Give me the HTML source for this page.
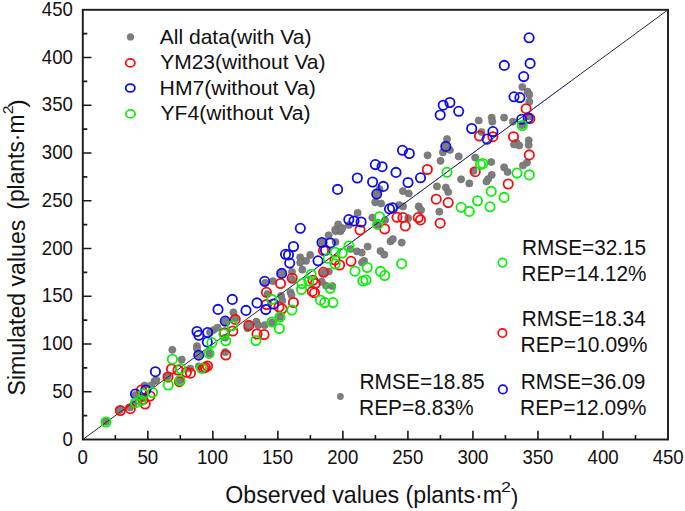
<!DOCTYPE html>
<html><head><meta charset="utf-8"><style>
html,body{margin:0;padding:0;background:#fff;width:685px;height:511px;overflow:hidden}
</style></head><body>
<svg width="685" height="511" viewBox="0 0 685 511" style="position:absolute;left:0;top:0" font-family='"Liberation Sans", sans-serif'>
<rect width="685" height="511" fill="#fff"/>
<g fill="#7e7e7e" stroke="#6c6c6c" stroke-width="0.6">
<circle cx="106" cy="421.7" r="3.6"/>
<circle cx="120" cy="410" r="3.6"/>
<circle cx="130" cy="407.5" r="3.6"/>
<circle cx="135.5" cy="395" r="3.6"/>
<circle cx="144.5" cy="385.5" r="3.6"/>
<circle cx="154.6" cy="381" r="3.6"/>
<circle cx="156.4" cy="380" r="3.6"/>
<circle cx="167.6" cy="376.5" r="3.6"/>
<circle cx="172.3" cy="349.8" r="3.6"/>
<circle cx="181.7" cy="359.6" r="3.6"/>
<circle cx="179.5" cy="380.5" r="3.6"/>
<circle cx="190.3" cy="368.5" r="3.6"/>
<circle cx="198.7" cy="355.2" r="3.6"/>
<circle cx="197" cy="346.2" r="3.6"/>
<circle cx="198.8" cy="366.4" r="3.6"/>
<circle cx="213.5" cy="330" r="3.6"/>
<circle cx="217.6" cy="327.6" r="3.6"/>
<circle cx="210" cy="332.3" r="3.6"/>
<circle cx="233.4" cy="312.3" r="3.6"/>
<circle cx="225.2" cy="321.1" r="3.6"/>
<circle cx="225.2" cy="352.2" r="3.6"/>
<circle cx="209.4" cy="353.4" r="3.6"/>
<circle cx="225.2" cy="337.6" r="3.6"/>
<circle cx="247.5" cy="328.2" r="3.6"/>
<circle cx="249" cy="325.2" r="3.6"/>
<circle cx="256.4" cy="321.7" r="3.6"/>
<circle cx="258.2" cy="325.2" r="3.6"/>
<circle cx="264.7" cy="325.2" r="3.6"/>
<circle cx="272" cy="322.3" r="3.6"/>
<circle cx="280" cy="317" r="3.6"/>
<circle cx="281.7" cy="273.5" r="3.6"/>
<circle cx="292" cy="279" r="3.6"/>
<circle cx="265.2" cy="282.9" r="3.6"/>
<circle cx="272.9" cy="281.2" r="3.6"/>
<circle cx="281.1" cy="295.8" r="3.6"/>
<circle cx="282.3" cy="300.5" r="3.6"/>
<circle cx="290.5" cy="292.3" r="3.6"/>
<circle cx="291.5" cy="295" r="3.6"/>
<circle cx="302.3" cy="269.7" r="3.6"/>
<circle cx="300.2" cy="257.3" r="3.6"/>
<circle cx="310.2" cy="254.9" r="3.6"/>
<circle cx="306.1" cy="260.8" r="3.6"/>
<circle cx="300.2" cy="262.6" r="3.6"/>
<circle cx="321.7" cy="281.7" r="3.6"/>
<circle cx="332.3" cy="286.1" r="3.6"/>
<circle cx="328.8" cy="271.5" r="3.6"/>
<circle cx="323.5" cy="272.6" r="3.6"/>
<circle cx="328.7" cy="235.3" r="3.6"/>
<circle cx="335.8" cy="231.2" r="3.6"/>
<circle cx="340.5" cy="231.2" r="3.6"/>
<circle cx="338.2" cy="224.4" r="3.6"/>
<circle cx="335.2" cy="229.7" r="3.6"/>
<circle cx="341.1" cy="229.7" r="3.6"/>
<circle cx="335.5" cy="242" r="3.6"/>
<circle cx="322.3" cy="242.5" r="3.6"/>
<circle cx="350.5" cy="249" r="3.6"/>
<circle cx="357" cy="251.4" r="3.6"/>
<circle cx="361.7" cy="252.6" r="3.6"/>
<circle cx="342.3" cy="228.2" r="3.6"/>
<circle cx="357.6" cy="212.9" r="3.6"/>
<circle cx="372.3" cy="217.6" r="3.6"/>
<circle cx="377.6" cy="224.7" r="3.6"/>
<circle cx="385.2" cy="220" r="3.6"/>
<circle cx="375.2" cy="202.3" r="3.6"/>
<circle cx="381.1" cy="203.5" r="3.6"/>
<circle cx="367.6" cy="246.5" r="3.6"/>
<circle cx="380.5" cy="251" r="3.6"/>
<circle cx="384.3" cy="254.7" r="3.6"/>
<circle cx="364.1" cy="260.8" r="3.6"/>
<circle cx="390.5" cy="241.4" r="3.6"/>
<circle cx="392.9" cy="239.1" r="3.6"/>
<circle cx="401.7" cy="242.6" r="3.6"/>
<circle cx="376.7" cy="194.1" r="3.6"/>
<circle cx="402.9" cy="191.1" r="3.6"/>
<circle cx="408.8" cy="193.5" r="3.6"/>
<circle cx="399" cy="205.2" r="3.6"/>
<circle cx="403.1" cy="206.4" r="3.6"/>
<circle cx="408.2" cy="218.1" r="3.6"/>
<circle cx="418.7" cy="206.4" r="3.6"/>
<circle cx="421.1" cy="210" r="3.6"/>
<circle cx="437" cy="186.4" r="3.6"/>
<circle cx="439.3" cy="211.7" r="3.6"/>
<circle cx="447" cy="139" r="3.6"/>
<circle cx="445.8" cy="146.4" r="3.6"/>
<circle cx="442.9" cy="152.3" r="3.6"/>
<circle cx="449.9" cy="150" r="3.6"/>
<circle cx="427.6" cy="155.3" r="3.6"/>
<circle cx="458.7" cy="156.4" r="3.6"/>
<circle cx="440.5" cy="160.8" r="3.6"/>
<circle cx="475.2" cy="157.6" r="3.6"/>
<circle cx="473.5" cy="171" r="3.6"/>
<circle cx="461.1" cy="179.3" r="3.6"/>
<circle cx="469.3" cy="183.4" r="3.6"/>
<circle cx="445.8" cy="187.5" r="3.6"/>
<circle cx="448.2" cy="192" r="3.6"/>
<circle cx="478.7" cy="120.5" r="3.6"/>
<circle cx="491.7" cy="117.6" r="3.6"/>
<circle cx="492.3" cy="121.7" r="3.6"/>
<circle cx="504.1" cy="117.6" r="3.6"/>
<circle cx="512.9" cy="121.7" r="3.6"/>
<circle cx="522.3" cy="87" r="3.6"/>
<circle cx="527.6" cy="91.7" r="3.6"/>
<circle cx="529.3" cy="94.7" r="3.6"/>
<circle cx="529.3" cy="101.7" r="3.6"/>
<circle cx="529.3" cy="116.4" r="3.6"/>
<circle cx="522.3" cy="125.2" r="3.6"/>
<circle cx="516.4" cy="142.6" r="3.6"/>
<circle cx="519.3" cy="145.5" r="3.6"/>
<circle cx="514" cy="144.4" r="3.6"/>
<circle cx="528.7" cy="140.3" r="3.6"/>
<circle cx="528.7" cy="145" r="3.6"/>
<circle cx="527" cy="162.6" r="3.6"/>
<circle cx="522.9" cy="165.5" r="3.6"/>
<circle cx="491.2" cy="162" r="3.6"/>
<circle cx="504.1" cy="167.3" r="3.6"/>
<circle cx="507.6" cy="172" r="3.6"/>
<circle cx="491.7" cy="174.9" r="3.6"/>
<circle cx="488.2" cy="179" r="3.6"/>
<circle cx="481.5" cy="132" r="3.6"/>
<circle cx="235.2" cy="318.5" r="3.6"/>
<circle cx="379.5" cy="189" r="3.6"/>
<circle cx="292" cy="272" r="3.6"/>
<circle cx="267.5" cy="294" r="3.6"/>
<circle cx="133.5" cy="404" r="3.6"/>
<circle cx="151" cy="385.5" r="3.6"/>
<circle cx="142.5" cy="398.5" r="3.6"/>
<circle cx="486.5" cy="181.5" r="3.6"/>
<circle cx="326" cy="285.6" r="3.6"/>
<circle cx="362" cy="262.5" r="3.6"/>
<circle cx="197" cy="348.8" r="3.6"/>
<circle cx="349" cy="225" r="3.6"/>
</g>
<line x1="82.8" y1="439.5" x2="668.0" y2="9.8" stroke="#2a2a2a" stroke-width="1.0"/>
<line x1="290.87" y1="286.72" x2="566.57" y2="84.28" stroke="#2828c8" stroke-opacity="0.45" stroke-width="1"/>
<g fill="none" stroke="#fa0a0a" stroke-width="1.8">
<circle cx="120.3" cy="410.5" r="4.65"/>
<circle cx="130.3" cy="408.7" r="4.65"/>
<circle cx="141.5" cy="390" r="4.65"/>
<circle cx="145.2" cy="404" r="4.65"/>
<circle cx="150" cy="396" r="4.65"/>
<circle cx="168" cy="377" r="4.65"/>
<circle cx="171.5" cy="369" r="4.65"/>
<circle cx="178" cy="370" r="4.65"/>
<circle cx="179.4" cy="381.6" r="4.65"/>
<circle cx="190.5" cy="373.2" r="4.65"/>
<circle cx="186.4" cy="372.3" r="4.65"/>
<circle cx="203.5" cy="368" r="4.65"/>
<circle cx="207.5" cy="366" r="4.65"/>
<circle cx="225.8" cy="355" r="4.65"/>
<circle cx="232.8" cy="331" r="4.65"/>
<circle cx="235.2" cy="319.4" r="4.65"/>
<circle cx="224.6" cy="332.9" r="4.65"/>
<circle cx="248.8" cy="325.4" r="4.65"/>
<circle cx="257" cy="334" r="4.65"/>
<circle cx="264.1" cy="334.6" r="4.65"/>
<circle cx="266.4" cy="292.3" r="4.65"/>
<circle cx="280.5" cy="283.5" r="4.65"/>
<circle cx="292.2" cy="278.2" r="4.65"/>
<circle cx="282" cy="308.8" r="4.65"/>
<circle cx="293.4" cy="302.5" r="4.65"/>
<circle cx="323.5" cy="250.5" r="4.65"/>
<circle cx="335" cy="260" r="4.65"/>
<circle cx="339.6" cy="265" r="4.65"/>
<circle cx="351" cy="261.3" r="4.65"/>
<circle cx="323.5" cy="272.3" r="4.65"/>
<circle cx="312.9" cy="280.3" r="4.65"/>
<circle cx="315.3" cy="283.6" r="4.65"/>
<circle cx="312.3" cy="291.4" r="4.65"/>
<circle cx="360" cy="230" r="4.65"/>
<circle cx="384.7" cy="229" r="4.65"/>
<circle cx="397" cy="217.3" r="4.65"/>
<circle cx="402.9" cy="217.6" r="4.65"/>
<circle cx="405.3" cy="226" r="4.65"/>
<circle cx="418.2" cy="217.6" r="4.65"/>
<circle cx="420.5" cy="219.9" r="4.65"/>
<circle cx="427.3" cy="169.5" r="4.65"/>
<circle cx="436.2" cy="199.2" r="4.65"/>
<circle cx="440.2" cy="223.2" r="4.65"/>
<circle cx="448.2" cy="202.6" r="4.65"/>
<circle cx="475.2" cy="171.7" r="4.65"/>
<circle cx="479.5" cy="136" r="4.65"/>
<circle cx="492.9" cy="136.7" r="4.65"/>
<circle cx="513.5" cy="136.7" r="4.65"/>
<circle cx="526.1" cy="108.7" r="4.65"/>
<circle cx="529.9" cy="118.7" r="4.65"/>
<circle cx="529.3" cy="154.9" r="4.65"/>
<circle cx="508.2" cy="184" r="4.65"/>
<circle cx="266.5" cy="304.5" r="4.65"/>
<circle cx="314.5" cy="292.8" r="4.65"/>
<circle cx="143" cy="399.5" r="4.65"/>
<circle cx="279" cy="307" r="4.65"/>
<circle cx="205.3" cy="367.3" r="4.65"/>
</g>
<g fill="none" stroke="#0c0cee" stroke-width="1.8">
<circle cx="135.5" cy="394" r="4.65"/>
<circle cx="145.8" cy="390" r="4.65"/>
<circle cx="155.4" cy="371.7" r="4.65"/>
<circle cx="198.7" cy="355.2" r="4.65"/>
<circle cx="197" cy="331.5" r="4.65"/>
<circle cx="198.8" cy="335.3" r="4.65"/>
<circle cx="207.6" cy="332.5" r="4.65"/>
<circle cx="207.3" cy="342" r="4.65"/>
<circle cx="218" cy="309.4" r="4.65"/>
<circle cx="232.3" cy="299.4" r="4.65"/>
<circle cx="225.2" cy="321.1" r="4.65"/>
<circle cx="246" cy="310.4" r="4.65"/>
<circle cx="257" cy="302.9" r="4.65"/>
<circle cx="265.8" cy="309.6" r="4.65"/>
<circle cx="273.5" cy="304" r="4.65"/>
<circle cx="264.7" cy="281.3" r="4.65"/>
<circle cx="281.7" cy="273.4" r="4.65"/>
<circle cx="285.5" cy="254.3" r="4.65"/>
<circle cx="288.5" cy="254.9" r="4.65"/>
<circle cx="289.7" cy="263.1" r="4.65"/>
<circle cx="293.5" cy="246.5" r="4.65"/>
<circle cx="300.3" cy="228.3" r="4.65"/>
<circle cx="318" cy="260.8" r="4.65"/>
<circle cx="322" cy="242.5" r="4.65"/>
<circle cx="330.3" cy="243" r="4.65"/>
<circle cx="337.6" cy="189.4" r="4.65"/>
<circle cx="348.8" cy="219.6" r="4.65"/>
<circle cx="354" cy="221" r="4.65"/>
<circle cx="361.1" cy="222" r="4.65"/>
<circle cx="357.3" cy="178" r="4.65"/>
<circle cx="372.6" cy="182" r="4.65"/>
<circle cx="375.3" cy="164.6" r="4.65"/>
<circle cx="382.1" cy="166.7" r="4.65"/>
<circle cx="383.3" cy="186.4" r="4.65"/>
<circle cx="376.7" cy="194.1" r="4.65"/>
<circle cx="389.5" cy="208.9" r="4.65"/>
<circle cx="392.6" cy="207.8" r="4.65"/>
<circle cx="396" cy="172.4" r="4.65"/>
<circle cx="402.5" cy="150.3" r="4.65"/>
<circle cx="409.3" cy="153.5" r="4.65"/>
<circle cx="408" cy="182.5" r="4.65"/>
<circle cx="420.5" cy="177.8" r="4.65"/>
<circle cx="440.2" cy="115" r="4.65"/>
<circle cx="443.2" cy="105.2" r="4.65"/>
<circle cx="449.9" cy="102.5" r="4.65"/>
<circle cx="458.7" cy="111.3" r="4.65"/>
<circle cx="471.7" cy="128.5" r="4.65"/>
<circle cx="445.8" cy="146.4" r="4.65"/>
<circle cx="492.9" cy="131.6" r="4.65"/>
<circle cx="487" cy="139.1" r="4.65"/>
<circle cx="514" cy="96.8" r="4.65"/>
<circle cx="519.9" cy="97.6" r="4.65"/>
<circle cx="504.3" cy="65.4" r="4.65"/>
<circle cx="530.1" cy="63.4" r="4.65"/>
<circle cx="523.7" cy="76.6" r="4.65"/>
<circle cx="529.1" cy="37.8" r="4.65"/>
<circle cx="521.7" cy="119.3" r="4.65"/>
<circle cx="528.1" cy="118.1" r="4.65"/>
<circle cx="325.5" cy="250.3" r="4.65"/>
</g>
<g fill="none" stroke="#0af00a" stroke-width="1.8">
<circle cx="106" cy="422" r="4.65"/>
<circle cx="135.5" cy="402.8" r="4.65"/>
<circle cx="143.5" cy="394" r="4.65"/>
<circle cx="152.5" cy="392.5" r="4.65"/>
<circle cx="168.3" cy="385" r="4.65"/>
<circle cx="172.4" cy="359.2" r="4.65"/>
<circle cx="180.6" cy="368.8" r="4.65"/>
<circle cx="180" cy="380.5" r="4.65"/>
<circle cx="201.4" cy="368.3" r="4.65"/>
<circle cx="209" cy="353.4" r="4.65"/>
<circle cx="211.9" cy="342.6" r="4.65"/>
<circle cx="224" cy="334" r="4.65"/>
<circle cx="225.8" cy="340.8" r="4.65"/>
<circle cx="232.3" cy="325.8" r="4.65"/>
<circle cx="255.9" cy="340.5" r="4.65"/>
<circle cx="271.7" cy="299.4" r="4.65"/>
<circle cx="272" cy="322" r="4.65"/>
<circle cx="280" cy="317" r="4.65"/>
<circle cx="279.3" cy="328.5" r="4.65"/>
<circle cx="291.9" cy="310" r="4.65"/>
<circle cx="301.5" cy="289.5" r="4.65"/>
<circle cx="302" cy="283.6" r="4.65"/>
<circle cx="308.8" cy="281" r="4.65"/>
<circle cx="311.1" cy="274.5" r="4.65"/>
<circle cx="330.2" cy="288.3" r="4.65"/>
<circle cx="320.5" cy="300.2" r="4.65"/>
<circle cx="324.7" cy="302.6" r="4.65"/>
<circle cx="332.9" cy="302.6" r="4.65"/>
<circle cx="328.2" cy="258.3" r="4.65"/>
<circle cx="335.2" cy="252.2" r="4.65"/>
<circle cx="342.2" cy="253" r="4.65"/>
<circle cx="349" cy="246" r="4.65"/>
<circle cx="335.2" cy="264" r="4.65"/>
<circle cx="355" cy="271.2" r="4.65"/>
<circle cx="366" cy="280" r="4.65"/>
<circle cx="367.2" cy="267.5" r="4.65"/>
<circle cx="380.5" cy="271.4" r="4.65"/>
<circle cx="384.7" cy="275.5" r="4.65"/>
<circle cx="401.7" cy="263.7" r="4.65"/>
<circle cx="379.5" cy="216.7" r="4.65"/>
<circle cx="377.7" cy="224.4" r="4.65"/>
<circle cx="447" cy="172.3" r="4.65"/>
<circle cx="461.1" cy="207.3" r="4.65"/>
<circle cx="469.3" cy="211.4" r="4.65"/>
<circle cx="477.5" cy="200.8" r="4.65"/>
<circle cx="491.2" cy="191.4" r="4.65"/>
<circle cx="504.1" cy="197.4" r="4.65"/>
<circle cx="490" cy="206.8" r="4.65"/>
<circle cx="480.5" cy="164.5" r="4.65"/>
<circle cx="517" cy="173.1" r="4.65"/>
<circle cx="529.3" cy="174.9" r="4.65"/>
<circle cx="522.3" cy="125.5" r="4.65"/>
<circle cx="362.8" cy="281" r="4.65"/>
<circle cx="141.2" cy="400.5" r="4.65"/>
<circle cx="482.8" cy="163.5" r="4.65"/>
</g>
<rect x="82.8" y="9.8" width="585.20" height="429.70" fill="none" stroke="#1a1a1a" stroke-width="1.9"/>
<path d="M115.31,439.5V435.0 M82.8,415.63H87.3 M147.82,439.5V430.8 M82.8,391.76H91.5 M180.33,439.5V435.0 M82.8,367.88H87.3 M212.84,439.5V430.8 M82.8,344.01H91.5 M245.36,439.5V435.0 M82.8,320.14H87.3 M277.87,439.5V430.8 M82.8,296.27H91.5 M310.38,439.5V435.0 M82.8,272.39H87.3 M342.89,439.5V430.8 M82.8,248.52H91.5 M375.40,439.5V435.0 M82.8,224.65H87.3 M407.91,439.5V430.8 M82.8,200.78H91.5 M440.42,439.5V435.0 M82.8,176.91H87.3 M472.93,439.5V430.8 M82.8,153.03H91.5 M505.44,439.5V435.0 M82.8,129.16H87.3 M537.96,439.5V430.8 M82.8,105.29H91.5 M570.47,439.5V435.0 M82.8,81.42H87.3 M602.98,439.5V430.8 M82.8,57.54H91.5 M635.49,439.5V435.0 M82.8,33.67H87.3" stroke="#1a1a1a" stroke-width="1.6" fill="none"/>
<text transform="translate(77.59,464.00) scale(0.9400,1)" font-size="19.8" fill="#111">0</text>
<text transform="translate(62.52,445.50) scale(0.9400,1)" font-size="19.8" fill="#111">0</text>
<text transform="translate(137.45,464.00) scale(0.9400,1)" font-size="19.8" fill="#111">50</text>
<text transform="translate(52.19,397.76) scale(0.9400,1)" font-size="19.8" fill="#111">50</text>
<text transform="translate(196.98,464.00) scale(0.9400,1)" font-size="19.8" fill="#111">100</text>
<text transform="translate(41.86,350.01) scale(0.9400,1)" font-size="19.8" fill="#111">100</text>
<text transform="translate(262.00,464.00) scale(0.9400,1)" font-size="19.8" fill="#111">150</text>
<text transform="translate(41.86,302.27) scale(0.9400,1)" font-size="19.8" fill="#111">150</text>
<text transform="translate(327.25,464.00) scale(0.9400,1)" font-size="19.8" fill="#111">200</text>
<text transform="translate(41.86,254.52) scale(0.9400,1)" font-size="19.8" fill="#111">200</text>
<text transform="translate(392.28,464.00) scale(0.9400,1)" font-size="19.8" fill="#111">250</text>
<text transform="translate(41.86,206.78) scale(0.9400,1)" font-size="19.8" fill="#111">250</text>
<text transform="translate(457.39,464.00) scale(0.9400,1)" font-size="19.8" fill="#111">300</text>
<text transform="translate(41.86,159.03) scale(0.9400,1)" font-size="19.8" fill="#111">300</text>
<text transform="translate(522.41,464.00) scale(0.9400,1)" font-size="19.8" fill="#111">350</text>
<text transform="translate(41.86,111.29) scale(0.9400,1)" font-size="19.8" fill="#111">350</text>
<text transform="translate(587.62,464.00) scale(0.9400,1)" font-size="19.8" fill="#111">400</text>
<text transform="translate(41.86,63.54) scale(0.9400,1)" font-size="19.8" fill="#111">400</text>
<text transform="translate(652.65,464.00) scale(0.9400,1)" font-size="19.8" fill="#111">450</text>
<text transform="translate(41.86,15.80) scale(0.9400,1)" font-size="19.8" fill="#111">450</text>
<text transform="translate(159.70,43.70) scale(1.0127,1)" font-size="20.8" fill="#111">All data(with Va)</text>
<text transform="translate(160.17,69.30) scale(1.0103,1)" font-size="20.8" fill="#111">YM23(without Va)</text>
<text transform="translate(159.60,94.80) scale(1.0187,1)" font-size="20.8" fill="#111">HM7(without Va)</text>
<text transform="translate(160.47,120.20) scale(1.0178,1)" font-size="20.8" fill="#111">YF4(without Va)</text>
<circle cx="130.5" cy="36.9" r="3.6" fill="#7e7e7e"/>
<ellipse cx="130.3" cy="62.9" rx="4.6" ry="3.95" fill="none" stroke="#fa0a0a" stroke-width="1.75"/>
<ellipse cx="130.3" cy="88" rx="4.6" ry="3.95" fill="none" stroke="#0c0cee" stroke-width="1.75"/>
<ellipse cx="130.5" cy="113.9" rx="4.6" ry="3.95" fill="none" stroke="#0af00a" stroke-width="1.75"/>
<text transform="translate(521.94,255.20) scale(0.9631,1)" font-size="21.6" fill="#111">RMSE=32.15</text>
<text transform="translate(521.54,281.30) scale(0.9588,1)" font-size="21.6" fill="#111">REP=14.12%</text>
<text transform="translate(521.84,326.00) scale(0.9599,1)" font-size="21.6" fill="#111">RMSE=18.34</text>
<text transform="translate(520.62,352.10) scale(0.9744,1)" font-size="21.6" fill="#111">REP=10.09%</text>
<text transform="translate(520.63,389.40) scale(0.9663,1)" font-size="21.6" fill="#111">RMSE=36.09</text>
<text transform="translate(520.12,415.40) scale(0.9705,1)" font-size="21.6" fill="#111">REP=12.09%</text>
<text transform="translate(359.42,388.50) scale(0.9702,1)" font-size="21.6" fill="#111">RMSE=18.85</text>
<text transform="translate(359.02,415.10) scale(0.9708,1)" font-size="21.6" fill="#111">REP=8.83%</text>
<circle cx="502.5" cy="262.6" r="4.2" fill="none" stroke="#0af00a" stroke-width="1.7"/>
<circle cx="502.4" cy="333" r="4.2" fill="none" stroke="#fa0a0a" stroke-width="1.7"/>
<circle cx="502.9" cy="389.4" r="4.2" fill="none" stroke="#0c0cee" stroke-width="1.7"/>
<circle cx="340.4" cy="396.5" r="3.4" fill="#7e7e7e"/>
<text transform="translate(225.36,503) scale(0.9817,1)" font-size="23.6" fill="#111">Observed values (plants·m</text>
<text transform="translate(501.00,492.20) scale(1.2873,1)" font-size="14" fill="#111">2</text>
<text transform="translate(510.89,503.60) scale(0.9684,1)" font-size="22.6" fill="#111">)</text>
<g transform="translate(24.60,395.44) rotate(-90)"><text transform="scale(0.9785,1)" font-size="23.6" fill="#111">Simulated values</text></g>
<g transform="translate(24.30,209.67) rotate(-90)"><text transform="scale(0.9669,1)" font-size="23.6" fill="#111">(plants·m</text></g>
<g transform="rotate(-90)"><text transform="translate(-114.28,12.90) scale(1.1146,1)" font-size="14" fill="#111">2</text></g>
<g transform="rotate(-90)"><text transform="translate(-107.63,24.90) scale(1.1033,1)" font-size="23.6" fill="#111">)</text></g>
</svg>
</body></html>
